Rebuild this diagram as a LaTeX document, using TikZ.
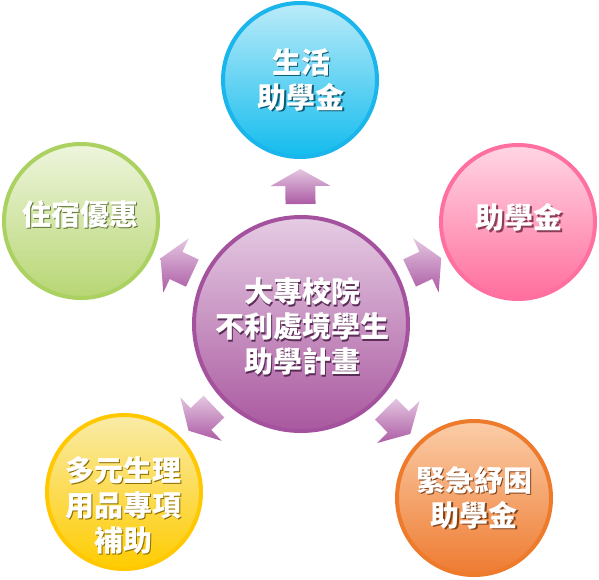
\documentclass[tikz,border=0pt]{standalone}
\usepackage{fontspec}
\newfontfamily\cjk{Noto Sans CJK TC}
\usetikzlibrary{calc}
\definecolor{pBord}{HTML}{A4519E}
\definecolor{pTop}{HTML}{E6CCE4}
\definecolor{pBot}{HTML}{A9589F}
\definecolor{bBord}{HTML}{1AB5EA}
\definecolor{bTop}{HTML}{BBEBF9}
\definecolor{bBot}{HTML}{13BCEE}
\definecolor{gBord}{HTML}{ABD161}
\definecolor{gTop}{HTML}{EEF5DD}
\definecolor{gBot}{HTML}{B7D673}
\definecolor{kBord}{HTML}{FF6F9F}
\definecolor{kTop}{HTML}{FFD6E4}
\definecolor{kBot}{HTML}{FF6E9D}
\definecolor{yBord}{HTML}{FFC800}
\definecolor{yTop}{HTML}{F9EBA8}
\definecolor{yBot}{HTML}{FFCC00}
\definecolor{oBord}{HTML}{EE7A2C}
\definecolor{oTop}{HTML}{FBCDA8}
\definecolor{oBot}{HTML}{EE7B31}
\definecolor{arrTop}{HTML}{E4C6E1}
\definecolor{arrBot}{HTML}{AC5CA4}
\colorlet{pSh}{pBord!55!black}
\colorlet{bSh}{bBord!50!black}
\colorlet{gSh}{gBord!55!black}
\colorlet{kSh}{kBord!55!black}
\colorlet{ySh}{yBord!55!black}
\colorlet{oSh}{oBord!55!black}
\tikzset{
  bubble/.style={circle, minimum size=154pt, inner sep=0pt, line width=4pt},
  hub/.style={circle, minimum size=214pt, inner sep=0pt, line width=4pt},
  lbl/.style={text=white, font=\cjk\bfseries\fontsize{29}{35}\selectfont, align=center, inner sep=0pt},
  arrowfill/.style={top color=arrTop, bottom color=arrBot, draw=none},
}
% one line of white text with a dark drop shadow
\newcommand\shl[2]{\rlap{\kern1.6pt\raisebox{-1.6pt}{\color{#1}#2}}#2}
\begin{document}
\begin{tikzpicture}[x=1pt,y=-1pt]
\useasboundingbox[fill=white] (0,0) rectangle (599,579);
\node[hub, draw=pBord, top color=pTop, bottom color=pBot] (c) at (301,324) {};
\node[bubble, draw=bBord, top color=bTop, bottom color=bBot] (t) at (300,80) {};
\node[bubble, draw=gBord, top color=gTop, bottom color=gBot] (l) at (81,221) {};
\node[bubble, draw=kBord, top color=kTop, bottom color=kBot] (r) at (518,222) {};
\node[bubble, draw=yBord, top color=yTop, bottom color=yBot] (bl) at (124,492) {};
\node[bubble, draw=oBord, top color=oTop, bottom color=oBot] (br) at (474,498) {};
\foreach \o in {t,l,r,bl,br}{
  \path[arrowfill] let \p1=($(\o)-(c)$), \n1={atan2(\y1,\x1)} in
    ($(c)+(\n1:120pt)+(\n1+90:15pt)$) -- ($(c)+(\n1:138pt)+(\n1+90:15pt)$) --
    ($(c)+(\n1:138pt)+(\n1+90:30pt)$) -- ($(c)+(\n1:155pt)$) --
    ($(c)+(\n1:138pt)+(\n1-90:30pt)$) -- ($(c)+(\n1:138pt)+(\n1-90:15pt)$) --
    ($(c)+(\n1:120pt)+(\n1-90:15pt)$) -- cycle;
}
\node[lbl] (tc) at (301,80.5) {\shl{bSh}{生活}\\\shl{bSh}{助學金}};
\node[lbl] (lc) at (80,215) {\shl{gSh}{住宿優惠}};
\node[lbl] (rc) at (519,218) {\shl{kSh}{助學金}};
\node[lbl] (blc) at (123,506) {\shl{ySh}{多元生理}\\\shl{ySh}{用品專項}\\\shl{ySh}{補助}};
\node[lbl] (brc) at (474,498.5) {\shl{oSh}{緊急紓困}\\\shl{oSh}{助學金}};
\node[lbl] (cc) at (302,327) {\shl{pSh}{大專校院}\\\shl{pSh}{不利處境學生}\\\shl{pSh}{助學計畫}};
\end{tikzpicture}
\end{document}
